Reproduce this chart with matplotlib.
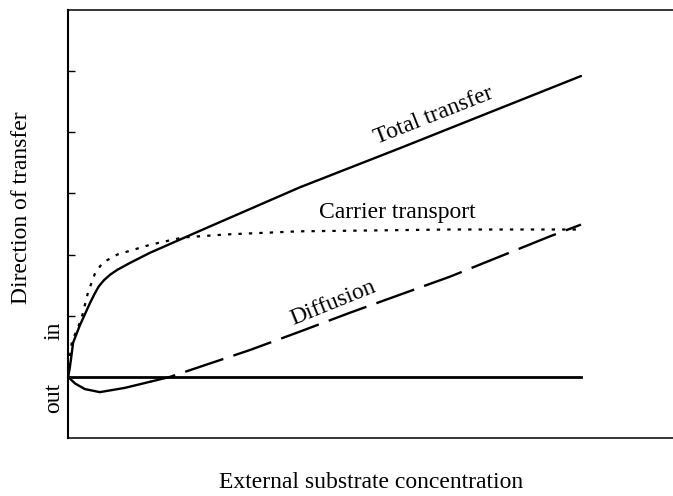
import matplotlib
matplotlib.use("Agg")
import matplotlib.pyplot as plt

plt.rcParams['font.family'] = ['Liberation Serif', 'DejaVu Serif']

# Curves (x: substrate concentration, y: transfer; 0 = no net transfer)
total_x = [0, 0.03, 0.06, 0.1, 0.23, 0.43, 0.52, 0.6, 0.7, 0.82, 0.96, 1.2, 1.6, 2.63, 4.52, 6.47, 10.0]
total_y = [0, 0.12, 0.3, 0.56, 0.84, 1.21, 1.36, 1.48, 1.58, 1.67, 1.75, 1.86, 2.03, 2.41, 3.10, 3.74, 4.92]

carrier_x = [0, 0.04, 0.08, 0.18, 0.27, 0.39, 0.53, 0.68, 0.96, 1.6, 2.24, 3.1, 4.5, 7.45, 10.0]
carrier_y = [0, 0.35, 0.6, 0.77, 0.98, 1.38, 1.70, 1.87, 2.0, 2.16, 2.28, 2.33, 2.38, 2.41, 2.41]

diff_x = [0, 0.14, 0.33, 0.62, 1.11, 1.6, 1.99, 3.55, 4.52, 5.5, 7.45, 9.4, 10.0]
diff_y = [0, -0.11, -0.2, -0.25, -0.18, -0.08, 0.0, 0.44, 0.74, 1.05, 1.64, 2.3, 2.49]

zero_x = [0, 10.0]
zero_y = [0, 0]

yticks = [1, 2, 3, 4, 5]

W, H = 673, 496
fig = plt.figure(figsize=(W / 100, H / 100), dpi=100)
ax = fig.add_axes([68 / W, 1 - 438 / H, (W - 68) / W, (438 - 10) / H])

ax.plot(total_x, total_y, color='black', lw=1.7, solid_capstyle='round', solid_joinstyle='round')
ax.plot(carrier_x, carrier_y, color='black', lw=1.6, linestyle=(0, (1.5, 3.2)))
# the dip of the diffusion curve reads as one long solid stroke, the rest is long-dashed
ax.plot(diff_x[:6], diff_y[:6], color='black', lw=1.7, solid_joinstyle='round')
ax.plot(diff_x[5:], diff_y[5:], color='black', lw=1.7, linestyle=(6, (17, 4.5)))
ax.plot(zero_x, zero_y, color='black', lw=2.0)

ax.set_xlim(0, (W - 68) / 51.3)
ax.set_ylim(-1, 6)
ax.set_xticks([])
ax.set_yticks(yticks)
ax.set_yticklabels([])
ax.tick_params(axis='y', direction='in', length=5, width=1, color='black')
ax.spines['right'].set_visible(False)
ax.spines['left'].set_linewidth(1.5)
ax.spines['top'].set_linewidth(1.1)
ax.spines['bottom'].set_linewidth(1.1)

fs = 17
ax.text(7.12, 4.27, 'Total transfer', rotation=21.5, ha='center', va='center', fontsize=fs)
ax.text(6.41, 2.68, 'Carrier transport', ha='center', va='center', fontsize=fs)
ax.text(5.17, 1.2, 'Diffusion', rotation=22, ha='center', va='center', fontsize=fs)

fig.text(54 / W, 1 - 331 / H, 'in', rotation=90, ha='center', va='center', fontsize=fs)
fig.text(54 / W, 1 - 398 / H, 'out', rotation=90, ha='center', va='center', fontsize=fs)
fig.text(22 / W, 1 - 208 / H, 'Direction of transfer', rotation=90, ha='center', va='center', fontsize=fs)
fig.text(371 / W, 1 - 482 / H, 'External substrate concentration', ha='center', va='center', fontsize=fs)

fig.savefig('out.png', dpi=100)
